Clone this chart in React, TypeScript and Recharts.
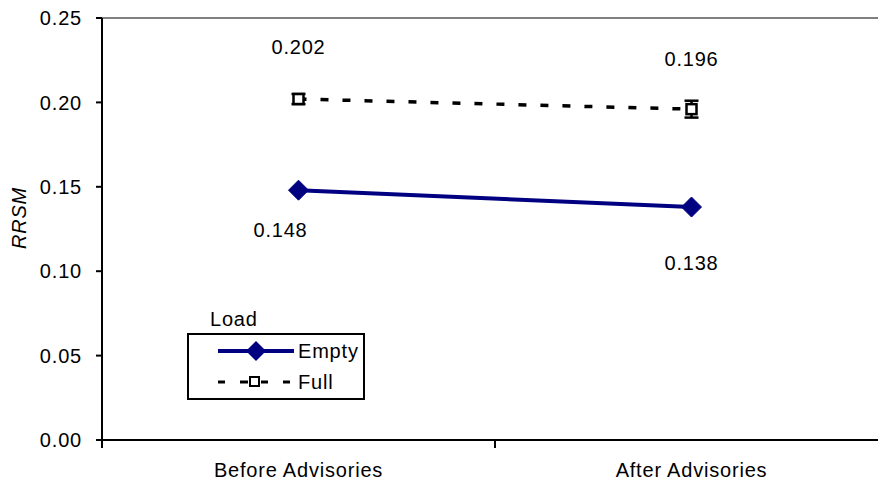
import React from "react";
import {
  LineChart,
  Line,
  XAxis,
  YAxis,
  ReferenceLine,
  ErrorBar,
  LabelList,
  Legend,
} from "recharts";

const categories = ["Before Advisories", "After Advisories"];
const emptyValues = [0.148, 0.138];
const fullValues = [0.202, 0.196];
const fullErrors = [0.003, 0.005];
const yTicks = [0, 0.05, 0.1, 0.15, 0.2, 0.25];

const data = categories.map((name, i) => ({
  name,
  empty: emptyValues[i],
  full: fullValues[i],
  fullErr: fullErrors[i],
}));

const FONT = "'Liberation Sans', Arial, sans-serif";
const SPACING = "0.8px";
const CHART_W = 900;
const CHART_H = 485;
const HALF_BAND = 196.5;
const NAVY = "#000080";

// label offsets relative to the point (Excel-style manual placement)
const emptyLabelOffsets = [
  { dx: -18, dy: 40 },
  { dx: 0, dy: 56 },
];
const fullLabelOffsets = [
  { dx: 0, dy: -52 },
  { dx: 0, dy: -50 },
];

const XTick = (props: any) => {
  const { x, y, payload } = props;
  return (
    <g>
      <line x1={x - HALF_BAND} x2={x - HALF_BAND} y1={y - 8} y2={y} stroke="#000" strokeWidth={2} />
      <text
        x={x}
        y={y + 22}
        textAnchor="middle"
        dominantBaseline="central"
        fontSize={20}
        letterSpacing={SPACING}
        fill="#000"
        fontFamily={FONT}
      >
        {payload.value}
      </text>
    </g>
  );
};

const Diamond = (props: any) => {
  const { cx, cy, index } = props;
  if (cx == null || cy == null) return <g key={`d${index}`} />;
  const r = 10;
  return (
    <path
      key={`d${index}`}
      d={`M${cx},${cy - r} L${cx + r},${cy} L${cx},${cy + r} L${cx - r},${cy} Z`}
      fill={NAVY}
      stroke={NAVY}
    />
  );
};

const Square = (props: any) => {
  const { cx, cy, index } = props;
  if (cx == null || cy == null) return <g key={`s${index}`} />;
  return <rect key={`s${index}`} x={cx - 5} y={cy - 5} width={10} height={10} fill="#fff" stroke="#000" strokeWidth={2.5} />;
};

const makeLabel = (offsets: { dx: number; dy: number }[]) => (p: any) => {
  const o = offsets[p.index] || { dx: 0, dy: 0 };
  return (
    <text
      x={p.x + o.dx}
      y={p.y + o.dy}
      textAnchor="middle"
      dominantBaseline="central"
      fontSize={20}
      letterSpacing={SPACING}
      fill="#000"
      fontFamily={FONT}
    >
      {Number(p.value).toFixed(3)}
    </text>
  );
};

const LegendBox = () => (
  <div style={{ fontFamily: FONT, fontSize: 20, letterSpacing: SPACING, color: "#000" }}>
    <div style={{ marginLeft: 23, height: 28, lineHeight: "28px" }}>Load</div>
    <div
      style={{
        border: "2px solid #000",
        width: 178,
        height: 67,
        boxSizing: "border-box",
        position: "relative",
      }}
    >
      <div style={{ position: "absolute", left: 29, top: 4, display: "flex", alignItems: "center" }}>
        <svg width={80} height={24}>
          <line x1={0} x2={76} y1={12} y2={12} stroke={NAVY} strokeWidth={4} />
          <path d="M38,2 L48,12 L38,22 L28,12 Z" fill={NAVY} />
        </svg>
        <span>Empty</span>
      </div>
      <div style={{ position: "absolute", left: 29, top: 35, display: "flex", alignItems: "center" }}>
        <svg width={80} height={24}>
          <line x1={0} x2={7} y1={12} y2={12} stroke="#000" strokeWidth={3} />
          <line x1={22} x2={30} y1={12} y2={12} stroke="#000" strokeWidth={3} />
          <rect x={32} y={7} width={9} height={9} fill="#fff" stroke="#000" strokeWidth={2} />
          <line x1={43} x2={50} y1={12} y2={12} stroke="#000" strokeWidth={3} />
          <line x1={65} x2={72} y1={12} y2={12} stroke="#000" strokeWidth={3} />
        </svg>
        <span>Full</span>
      </div>
    </div>
  </div>
);

export default function App() {
  return (
    <div style={{ position: "absolute", left: 0, top: 0, width: 878, height: 485, overflow: "hidden", background: "#fff" }}>
      <LineChart width={CHART_W} height={CHART_H} data={data} margin={{ top: 18, right: 12, bottom: 0, left: 0 }}>
        <ReferenceLine y={0.25} stroke="#808080" strokeWidth={2} />
        <XAxis
          dataKey="name"
          padding={{ left: HALF_BAND, right: HALF_BAND }}
          tick={<XTick />}
          tickLine={false}
          axisLine={{ stroke: "#000", strokeWidth: 2 }}
          height={45}
          interval={0}
        />
        <YAxis
          width={102}
          domain={[0, 0.25]}
          ticks={yTicks}
          tickFormatter={(v: number) => v.toFixed(2)}
          tick={{ fontSize: 20, fill: "#000", fontFamily: FONT, letterSpacing: SPACING }}
          tickSize={6}
          tickMargin={14}
          tickLine={{ stroke: "#000", strokeWidth: 2 }}
          axisLine={{ stroke: "#000", strokeWidth: 2 }}
          label={{
            content: () => (
              <text
                x={19}
                y={218}
                transform="rotate(-90 19 218)"
                textAnchor="middle"
                dominantBaseline="central"
                fontSize={20}
                letterSpacing={SPACING}
                fontStyle="italic"
                fill="#000"
                fontFamily={FONT}
              >
                RRSM
              </text>
            ),
          }}
        />
        <Legend
          layout="vertical"
          align="center"
          verticalAlign="middle"
          wrapperStyle={{ left: 187, top: 305, width: 200 }}
          content={() => <LegendBox />}
        />
        <Line
          type="linear"
          dataKey="full"
          name="Full"
          stroke="#000"
          strokeWidth={3.5}
          strokeDasharray="8 14"
          dot={(p: any) => <Square {...p} />}
          activeDot={false}
          isAnimationActive={false}
        >
          <ErrorBar dataKey="fullErr" width={7} stroke="#000" strokeWidth={2.5} direction="y" />
          <LabelList dataKey="full" content={makeLabel(fullLabelOffsets)} />
        </Line>
        <Line
          type="linear"
          dataKey="empty"
          name="Empty"
          stroke={NAVY}
          strokeWidth={4}
          dot={(p: any) => <Diamond {...p} />}
          activeDot={false}
          isAnimationActive={false}
        >
          <LabelList dataKey="empty" content={makeLabel(emptyLabelOffsets)} />
        </Line>
      </LineChart>
    </div>
  );
}
